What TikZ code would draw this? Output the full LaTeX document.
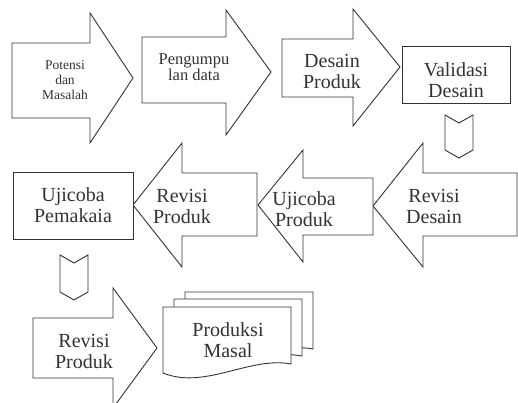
\documentclass[tikz,border=0pt]{standalone}
\usepackage{fontspec}
\setmainfont{Liberation Serif}
\begin{document}
\begin{tikzpicture}[x=1pt,y=-1pt,
  shp/.style={draw=black!80,line width=0.9pt,fill=white,line join=miter},
  lbl/.style={align=center,text=black!80,inner sep=0pt},
  big/.style={lbl,font=\fontsize{20}{21}\selectfont},
  mid/.style={lbl,font=\fontsize{16.5}{16}\selectfont},
  sml/.style={lbl,font=\fontsize{13.5}{15}\selectfont}]
\useasboundingbox (0,0) rectangle (518,403);
\begin{scope}
\clip (0,0) rectangle (518,403);
% row 1
\draw[shp] (12,43) -- (90,43) -- (90,13) -- (133,78) -- (90,143) -- (90,118) -- (12,118) -- cycle;
\draw[shp] (142,37) -- (226,37) -- (226,10) -- (271,72) -- (226,135) -- (226,103) -- (142,103) -- cycle;
\draw[shp] (282,39) -- (353,39) -- (353,9) -- (400,67) -- (353,126) -- (353,97) -- (282,97) -- cycle;
\draw[shp] (402,46) rectangle (510,103);
\draw[shp] (445,115) -- (459,123) -- (473,115) -- (473,150) -- (459,158) -- (445,150) -- cycle;
% row 2
\draw[shp] (373,206) -- (423,143) -- (423,173) -- (517,173) -- (517,236) -- (423,236) -- (423,267) -- cycle;
\draw[shp] (258,205) -- (303,150) -- (303,178) -- (373,178) -- (373,235) -- (303,235) -- (303,262) -- cycle;
\draw[shp] (133,205) -- (182,143) -- (182,173) -- (257,173) -- (257,236) -- (182,236) -- (182,267) -- cycle;
\draw[shp] (13,172) rectangle (133,239);
\draw[shp] (60,255) -- (74,263) -- (88,255) -- (88,292) -- (74,300) -- (60,292) -- cycle;
% row 3
\draw[shp] (33,318) -- (113,318) -- (113,288) -- (157,348) -- (113,408) -- (113,378) -- (33,378) -- cycle;
\foreach \dx/\dy in {22/-15,11/-8,0/0}{
  \draw[shp,shift={(\dx,\dy)}] (163,307) -- (291,307) -- (291,364)
    .. controls (250,356) and (205,390) .. (163,373) -- cycle;
}
\end{scope}
% labels
\node[sml] (potensi) at (65,80) {Potensi\\dan\\Masalah};
\node[mid] (kumpul) at (194,67) {Pengumpu\\lan data};
\node[big] (desain) at (332,71) {Desain\\Produk};
\node[big] (validasi) at (456,80) {Validasi\\Desain};
\node[big] (revdesain) at (434,206) {Revisi\\Desain};
\node[big] (ujiproduk) at (304,209) {Ujicoba\\Produk};
\node[big] (revproduk) at (182,206) {Revisi\\Produk};
\node[big] (pemakai) at (73,205) {Ujicoba\\Pemakaia};
\node[big] (revproduk2) at (84,351) {Revisi\\Produk};
\node[big] (masal) at (228,340) {Produksi\\Masal};
\end{tikzpicture}
\end{document}
